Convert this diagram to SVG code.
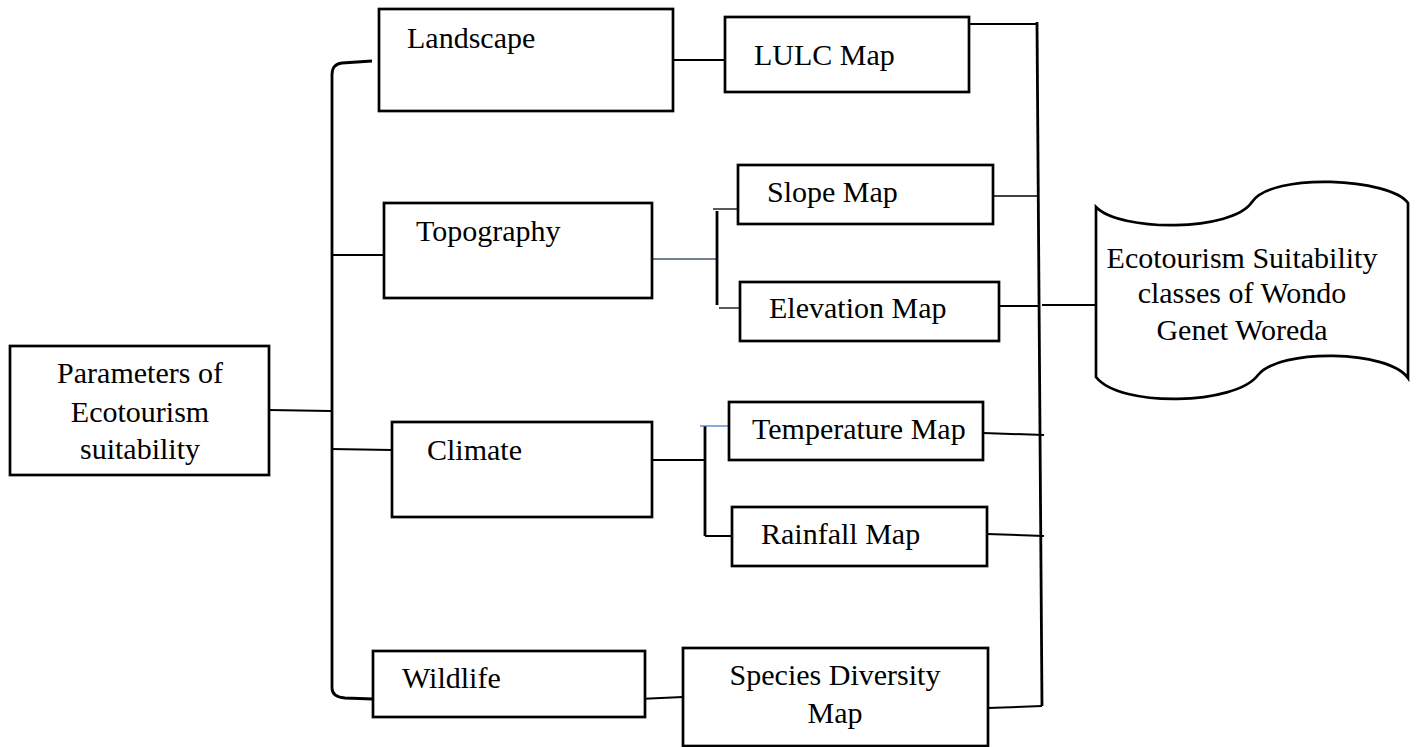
<svg xmlns="http://www.w3.org/2000/svg" width="1417" height="747" viewBox="0 0 1417 747">
<style>
.box{fill:#fff;stroke:#000;stroke-width:2.7}
.t{font-family:"Liberation Serif","Times New Roman",serif;font-size:30px;fill:#000}
.c{fill:none;stroke:#000;stroke-width:2}
.ct{fill:none;stroke:#000;stroke-width:1.3}
.cb{fill:none;stroke:#000;stroke-width:2.8}
</style>
<rect width="1417" height="747" fill="#fff"/>
<g id="connectors">
<path class="cb" d="M372,61 L342,63 Q332,64 332,75 L332,688 Q332,697 345,698 L373,699"/>
<path class="c" d="M269,410 L331,411"/>
<path class="c" d="M331,255 L384,255"/>
<path class="c" d="M331,449 L392,450"/>
<path class="c" d="M664,60 L724,60"/>
<path class="c" d="M639,699 L683,697"/>
<path fill="none" stroke="#44546a" stroke-width="1.5" d="M652,259 L717,259"/>
<path class="cb" d="M717,211 L717,305"/>
<path class="ct" d="M713,209 L738,209"/>
<path class="ct" d="M719,308 L740,308"/>
<path class="c" d="M652,460 L705,460"/>
<path class="cb" d="M705,426 L705,536"/>
<path fill="none" stroke="#4472c4" stroke-width="1.2" d="M700,426 L728,426"/>
<path class="c" d="M705,536 L735,536"/>
<path class="cb" d="M1037,22 L1042,706"/>
<path class="c" d="M967,24 L1037,24"/>
<path class="ct" d="M993,196 L1039,196"/>
<path class="c" d="M998,306 L1040,306"/>
<path class="c" d="M1042,305 L1096,305"/>
<path class="c" d="M983,433 L1044,435"/>
<path class="c" d="M987,534 L1044,536"/>
<path class="c" d="M988,708 L1042,706"/>
</g>
<g id="parameters">
<rect class="box" x="10" y="346" width="259" height="129"/>
<text class="t" x="140" y="383" text-anchor="middle">Parameters of</text>
<text class="t" x="140" y="422" text-anchor="middle">Ecotourism</text>
<text class="t" x="140" y="459" text-anchor="middle">suitability</text>
</g>
<g id="landscape">
<rect class="box" x="379" y="9" width="294" height="102"/>
<text class="t" x="407" y="48">Landscape</text>
</g>
<g id="topography">
<rect class="box" x="384" y="203" width="268" height="95"/>
<text class="t" x="416" y="241">Topography</text>
</g>
<g id="climate">
<rect class="box" x="392" y="422" width="260" height="95"/>
<text class="t" x="427" y="460">Climate</text>
</g>
<g id="wildlife">
<rect class="box" x="373" y="651" width="272" height="66"/>
<text class="t" x="402" y="688">Wildlife</text>
</g>
<g id="lulc">
<rect class="box" x="725" y="17" width="244" height="75"/>
<text class="t" x="754" y="65">LULC Map</text>
</g>
<g id="slope">
<rect class="box" x="738" y="165" width="255" height="59"/>
<text class="t" x="767" y="202">Slope Map</text>
</g>
<g id="elevation">
<rect class="box" x="740" y="282" width="259" height="59"/>
<text class="t" x="769" y="318">Elevation Map</text>
</g>
<g id="temperature">
<rect class="box" x="729" y="402" width="254" height="58"/>
<text class="t" x="752" y="439">Temperature Map</text>
</g>
<g id="rainfall">
<rect class="box" x="732" y="507" width="255" height="59"/>
<text class="t" x="761" y="544">Rainfall Map</text>
</g>
<g id="species">
<rect class="box" x="683" y="648" width="305" height="98"/>
<text class="t" x="835" y="685" text-anchor="middle">Species Diversity</text>
<text class="t" x="835" y="723" text-anchor="middle">Map</text>
</g>
<g id="result">
<path class="box" d="M1096,207 C1120,232 1232,232 1252,202 C1272,172 1390,178 1408,203 L1408,378 C1388,350 1280,348 1258,375 C1236,405 1120,408 1096,377 Z"/>
<text class="t" x="1242" y="268" text-anchor="middle">Ecotourism Suitability</text>
<text class="t" x="1242" y="303" text-anchor="middle">classes of Wondo</text>
<text class="t" x="1242" y="340" text-anchor="middle">Genet Woreda</text>
</g>
</svg>
